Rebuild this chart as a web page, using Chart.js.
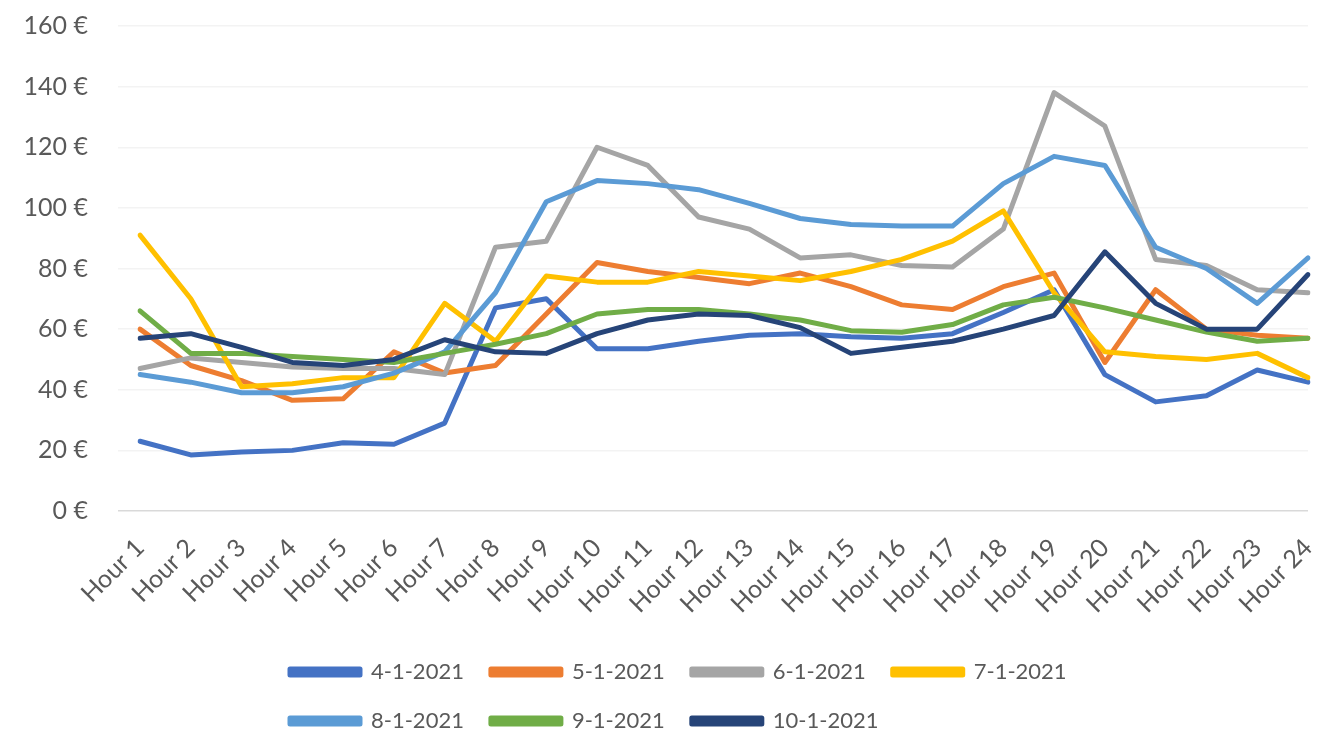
<!DOCTYPE html>
<html>
<head>
<meta charset="utf-8">
<script src="https://cdn.jsdelivr.net/npm/chart.js@4"></script>
<style>
  html, body { margin: 0; padding: 0; background: #fff; }
  #wrap { width: 1327px; height: 737px; position: relative; }
</style>
</head>
<body>
<div id="wrap"><canvas id="priceChart"></canvas></div>
<script>
const hours = ["Hour 1", "Hour 2", "Hour 3", "Hour 4", "Hour 5", "Hour 6", "Hour 7", "Hour 8",
    "Hour 9", "Hour 10", "Hour 11", "Hour 12", "Hour 13", "Hour 14", "Hour 15", "Hour 16",
    "Hour 17", "Hour 18", "Hour 19", "Hour 20", "Hour 21", "Hour 22", "Hour 23", "Hour 24"];

const day4 = [23, 18.5, 19.5, 20, 22.5, 22, 29, 67, 70, 53.5, 53.5, 56, 58, 58.5, 57.5, 57, 58.5, 65.5, 73, 45, 36, 38, 46.5, 42.5];
const day5 = [60, 48, 43, 36.5, 37, 52.5, 45.5, 48, 65, 82, 79, 77, 75, 78.5, 74, 68, 66.5, 74, 78.5, 49, 73, 60, 58, 57];
const day6 = [47, 50.5, 49, 47.5, 47, 47, 45, 87, 89, 120, 114, 97, 93, 83.5, 84.5, 81, 80.5, 93, 138, 127, 83, 81, 73, 72];
const day7 = [91, 70, 41, 42, 44, 44, 68.5, 56, 77.5, 75.5, 75.5, 79, 77.5, 76, 79, 83, 89, 99, 72, 52.5, 51, 50, 52, 44];
const day8 = [45, 42.5, 39, 39, 41, 45.5, 52.5, 72, 102, 109, 108, 106, 101.5, 96.5, 94.5, 94, 94, 108, 117, 114, 87, 80, 68.5, 83.5];
const day9 = [66, 52, 52, 51, 50, 49, 52, 55, 58.5, 65, 66.5, 66.5, 65, 63, 59.5, 59, 61.5, 68, 70.5, 67, 63, 59, 56, 57];
const day10 = [57, 58.5, 54, 49, 48, 50, 56.5, 52.5, 52, 58.5, 63, 65, 64.5, 60.5, 52, 54, 56, 60, 64.5, 85.5, 68.5, 60, 60, 78];

const seriesNames = ["4-1-2021", "5-1-2021", "6-1-2021", "7-1-2021", "8-1-2021", "9-1-2021", "10-1-2021"];
const seriesValues = [day4, day5, day6, day7, day8, day9, day10];
const seriesColors = ["#4472C4", "#ED7D31", "#A5A5A5", "#FFC000", "#5B9BD5", "#70AD47", "#264478"];

const yTicks = [0, 20, 40, 60, 80, 100, 120, 140, 160];

// narrow the legend box so it wraps after four entries, both rows left aligned
const legendWrap = {
    id: "legendWrap",
    afterLayout(chart) {
        const legend = chart.legend;
        if (!legend) return;
        legend.left = 263;
        legend.right = 1140;
    }
};

document.addEventListener("DOMContentLoaded", function () {

    loadChart();

});

function loadChart() {

    const canvas = document.getElementById("priceChart");
    const ctx = canvas.getContext("2d");
    const textColor = "#595959";
    const font = "Lato, 'Open Sans', sans-serif";

    // later series are drawn on top, like the original
    const datasets = seriesNames.map((name, i) => ({
        label: name,
        data: seriesValues[i],
        borderColor: seriesColors[i],
        backgroundColor: seriesColors[i],
        borderWidth: 5,
        pointRadius: 0,
        tension: 0,
        borderJoinStyle: "round",
        borderCapStyle: "round",
        order: seriesNames.length - i
    }));

    new Chart(ctx, {

        type: "line",

        data: {
            labels: hours,
            datasets: datasets
        },

        plugins: [legendWrap],

        options: {
            responsive: true,
            maintainAspectRatio: false,
            animation: false,
            layout: {
                padding: { top: 26, right: 19, bottom: -5, left: 0 }
            },
            scales: {
                x: {
                    offset: false,
                    grid: { display: false },
                    border: { display: false },
                    ticks: {
                        color: textColor,
                        font: { family: font, size: 25 },
                        minRotation: 45,
                        maxRotation: 45,
                        padding: 14,
                        autoSkip: false
                    },
                    afterFit: function (scale) {
                        scale.height = 123;
                        scale.paddingLeft = 0;
                        scale.paddingRight = 0;
                    }
                },
                y: {
                    min: 0,
                    max: 160,
                    afterBuildTicks: function (scale) {
                        scale.ticks = yTicks.map(v => ({ value: v }));
                    },
                    grid: {
                        color: c => c.tick && c.tick.value === 0 ? "#d9d9d9" : "#f3f3f3",
                        lineWidth: 1.5,
                        tickLength: 22
                    },
                    border: { display: false },
                    ticks: {
                        color: textColor,
                        font: { family: font, size: 25 },
                        padding: 30,
                        callback: v => v + " €"
                    },
                    afterFit: function (scale) {
                        scale.width = 140;
                        scale.paddingTop = 0;
                        scale.paddingBottom = 0;
                    }
                }
            },
            plugins: {
                legend: {
                    position: "bottom",
                    align: "start",
                    labels: {
                        color: textColor,
                        font: { family: font, size: 22 },
                        boxWidth: 70,
                        boxHeight: 6,
                        padding: 27,
                        sort: (a, b) => a.datasetIndex - b.datasetIndex
                    }
                },
                tooltip: { enabled: false }
            }
        }

    });

}
</script>
</body>
</html>
